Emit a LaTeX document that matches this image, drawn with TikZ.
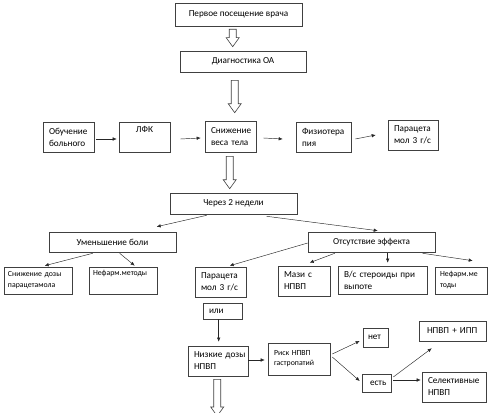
\documentclass[tikz,border=0pt]{standalone}
\usepackage{fontspec}
\setmainfont{Carlito}
\usetikzlibrary{arrows.meta,calc}
\tikzset{
 bx/.style={draw=black!75, line width=0.6pt, inner xsep=6pt, inner ysep=0pt, font=\fontsize{9.2}{12}\selectfont, align=left, anchor=center},
 cb/.style={bx, align=center},
 sm/.style={font=\fontsize{7.8}{11}\selectfont},
 ar/.style={-{Latex[length=4pt,width=3.5pt]}, line width=0.45pt, draw=black!85},
 hol/.style={draw=black!75, line width=0.6pt, fill=white},
}
\newcommand\hollowarr[2]{%
  \draw[hol] let \p1=#1, \p2=#2 in
   (\x1-3.5pt,\y1) -- (\x1+3.5pt,\y1) -- (\x1+3.5pt,\y2+9pt) -- (\x1+6.5pt,\y2+9pt)
   -- (\x1,\y2) -- (\x1-6.5pt,\y2+9pt) -- (\x1-3.5pt,\y2+9pt) -- cycle;}
\begin{document}
\begin{tikzpicture}[x=1pt,y=-1pt]
\useasboundingbox (0,0) rectangle (500,412);
% top
\node[cb, minimum width=127pt, minimum height=23pt] (p1) at (238.5,14.5) {Первое посещение врача};
\node[cb, minimum width=126pt, minimum height=21pt] (diag) at (243,61.5) {Диагностика ОА};
% row 1
\node[bx, minimum width=51pt, minimum height=30pt, text width=39pt] (ob) at (68.5,137) {Обучение\\больного};
\node[cb, minimum width=51pt, minimum height=30pt, text width=39pt] (lfk) at (144.5,137) {ЛФК\\\strut};
\node[bx, minimum width=51pt, minimum height=31pt, text width=39pt] (snw) at (230.5,136.5) {Снижение\\веса~тела};
\node[bx, minimum width=55pt, minimum height=30pt, text width=43pt] (fiz) at (323.5,137) {Физиотера\\пия};
\node[bx, minimum width=50pt, minimum height=30pt, text width=38pt] (par1) at (413,135) {Парацета\\мол~3~г/с};
% row 2
\node[cb, minimum width=127pt, minimum height=21pt] (week) at (233.5,203.5) {Через 2 недели};
\node[cb, minimum width=127pt, minimum height=20pt] (um) at (112.5,242) {Уменьшение боли};
\node[cb, minimum width=127pt, minimum height=20pt] (ots) at (371.5,242) {Отсутствие эффекта};
% row 3
\node[bx, sm, inner xsep=4pt, minimum width=68pt, minimum height=27pt, text width=60pt] (snd) at (38,280.5) {Снижение~дозы\\парацетамола};
\node[bx, sm, inner xsep=4pt, minimum width=68pt, minimum height=27pt, text width=60pt] (nef1) at (123,280.5) {Нефарм.методы\\\strut};
\node[bx, minimum width=51pt, minimum height=30pt, text width=39pt] (par2) at (220.5,282) {Парацета\\мол~3~г/с};
\node[bx, minimum width=52pt, minimum height=30pt, text width=40pt] (maz) at (304,281) {Мази~с\\НПВП};
\node[bx, minimum width=89pt, minimum height=28pt, text width=77pt] (vs) at (382.5,280) {В/с~стероиды~при\\выпоте};
\node[bx, sm, inner xsep=5pt, minimum width=52pt, minimum height=27pt, text width=42pt] (nef2) at (461,280.5) {Нефарм.ме\\тоды};
% bottom
\node[bx, minimum width=39pt, minimum height=16pt, text width=27pt] (ili) at (222.5,311) {или};
\node[bx, minimum width=60pt, minimum height=30pt, text width=48pt] (low) at (218,361) {Низкие~дозы\\НПВП};
\node[bx, font=\fontsize{7.8}{10}\selectfont, inner xsep=6pt, minimum width=62pt, minimum height=32pt, text width=50pt] (risk) at (299,359) {Риск~НПВП\\гастропатий};
\node[bx, inner xsep=5pt, minimum width=25pt, minimum height=19pt, text width=15pt] (net) at (375.5,337.5) {нет};
\node[bx, inner xsep=8pt, minimum width=29pt, minimum height=18pt, text width=13pt] (est) at (376.5,383) {есть};
\node[bx, inner xsep=8pt, minimum width=67pt, minimum height=20pt, text width=51pt] (ipp) at (452.5,331) {НПВП~+~ИПП};
\node[bx, minimum width=64pt, minimum height=30pt, text width=52pt] (sel) at (454,387) {Селективные\\НПВП};
% hollow arrows
\hollowarr{($(p1.south west)+(58,3)$)}{($(diag.north west)+(53,-4)$)}
\hollowarr{($(diag.south west)+(55,8)$)}{($(snw.north west)+(30,-8)$)}
\hollowarr{($(snw.south west)+(25,4)$)}{($(week.north west)+(60,-4)$)}
\coordinate (lowend) at (217.5,416);
\hollowarr{($(low.south west)+(29.5,3)$)}{(lowend)}
% row 1 arrows
\draw[ar] ([xshift=2pt,yshift=-2pt]ob.east) -- ([xshift=-2pt,yshift=-2pt]lfk.west);
\draw[ar] ([xshift=10pt,yshift=-2pt]lfk.east) -- ([xshift=-4pt,yshift=-1.5pt]snw.west);
\draw[ar] ([xshift=7pt,yshift=-1.5pt]snw.east) -- ([xshift=-13pt,yshift=-2pt]fiz.west);
\draw[ar] ([xshift=4pt,yshift=-2pt]fiz.east) -- ([xshift=-12pt]par1.west);
% diagonals
\draw[ar] ($(week.south west)+(37,1)$) -- ($(um.north west)+(108,-5)$);
\draw[ar] ($(week.south west)+(97,2)$) -- ($(ots.north west)+(70,-1)$);
\draw[ar] ($(um.south west)+(44,1)$) -- ($(snd.north west)+(41,-1)$);
\draw[ar] ($(um.south west)+(71,1)$) -- ($(nef1.north west)+(46,-1)$);
\draw[ar] ($(ots.west)+(0,1)$) -- ($(par2.north west)+(35,-1)$);
\draw[ar] ($(ots.south west)+(27,1)$) -- ($(maz.north west)+(32,-3)$);
\draw[ar] ($(ots.south west)+(80,1)$) -- ($(vs.north west)+(50,-3)$);
\draw[ar] ($(ots.south west)+(115,1)$) -- ($(nef2.north west)+(38,-6)$);
\draw[ar] ($(ili.south west)+(16,0)$) -- ($(low.north west)+(31,-4)$);
\draw[ar] ($(low.east)+(0,-1)$) -- ($(risk.west)+(-3,1)$);
\draw[ar] ($(risk.east)+(2,-5)$) -- ($(net.west)+(-3,3.5)$);
\draw[ar] ($(risk.east)+(2,-2)$) -- ($(est.west)+(-2,-2)$);
\draw[ar] ($(est.east)+(2,-6)$) -- ($(ipp.south west)+(13,7)$);
\draw[ar] ($(est.east)+(2,-3)$) -- ($(sel.west)+(-1,-7)$);
\end{tikzpicture}
\end{document}
